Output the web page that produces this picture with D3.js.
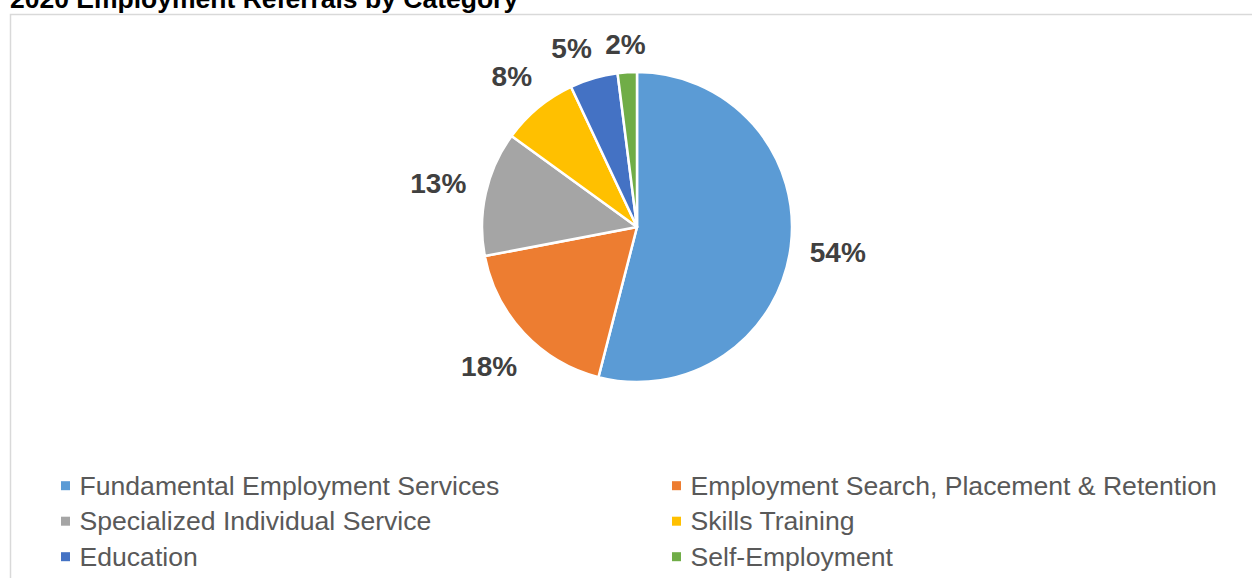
<!DOCTYPE html>
<html lang="en">
<head>
    <meta charset="UTF-8">
    <title>2020 Employment Referrals by Category</title>
    <script src="https://d3js.org/d3.v7.min.js"></script>
    <style>
        body { margin: 0; background: #fff; }
        svg { display: block; font-family: "Liberation Sans", Arial, sans-serif; }
    </style>
</head>
<body>
    <div id="chart"></div>
    <script>
        // chart data
        const categories = [
            "Fundamental Employment Services",
            "Employment Search, Placement & Retention",
            "Specialized Individual Service",
            "Skills Training",
            "Education",
            "Self-Employment"
        ];
        const shares = [54, 18, 13, 8, 5, 2];
        const sliceColors = ["#5B9BD5", "#ED7D31", "#A5A5A5", "#FFC000", "#4472C4", "#70AD47"];
        const title = "2020 Employment Referrals by Category";

        const width = 1252, height = 578;
        const cx = 637, cy = 227, radius = 155;

        const svg = d3.select("#chart")
            .append("svg")
            .attr("width", width)
            .attr("height", height);

        // chart area border
        svg.append("rect")
            .attr("x", 10.5)
            .attr("y", 14.5)
            .attr("width", width + 40)
            .attr("height", height + 40)
            .attr("fill", "none")
            .attr("stroke", "#d9d9d9")
            .attr("stroke-width", 1.5);

        // title (partly above the top edge, as in the picture)
        svg.append("text")
            .attr("x", 10)
            .attr("y", 8)
            .attr("font-size", "26.5px")
            .attr("font-weight", "bold")
            .attr("fill", "#000")
            .text(title);

        const data = categories.map((c, i) => ({ name: c, value: shares[i], color: sliceColors[i] }));

        const pie = d3.pie().sort(null).value(d => d.value);
        const arcs = pie(data);
        const arc = d3.arc().innerRadius(0).outerRadius(radius);

        const g = svg.append("g").attr("transform", `translate(${cx},${cy})`);

        g.selectAll("path.slice")
            .data(arcs)
            .join("path")
            .attr("class", "slice")
            .attr("d", arc)
            .attr("fill", d => d.data.color)
            .attr("stroke", "#fff")
            .attr("stroke-width", 2.5)
            .attr("stroke-linejoin", "round");

        // percentage labels, placed outside each slice
        const labelSize = 28;
        const labels = g.selectAll("text.pct")
            .data(arcs)
            .join("text")
            .attr("class", "pct")
            .attr("text-anchor", "middle")
            .attr("font-size", labelSize + "px")
            .attr("font-weight", "bold")
            .attr("fill", "#404040")
            .text(d => d.data.value + "%");

        const gapRadius = radius + 11.5;  // how far the label box keeps from the centre
        const padX = 6.5, halfH = 17;

        function placeAt(angle, hw) {
            const ux = Math.sin(angle), uy = -Math.cos(angle);
            const nearest = dd => {
                const x = dd * ux, y = dd * uy;
                const nx = Math.max(x - hw, Math.min(0, x + hw));
                const ny = Math.max(y - halfH, Math.min(0, y + halfH));
                return Math.hypot(nx, ny);
            };
            let lo = 0, hi = gapRadius + 200;
            for (let k = 0; k < 60; k++) {
                const mid = (lo + hi) / 2;
                if (nearest(mid) < gapRadius) lo = mid; else hi = mid;
            }
            return { x: lo * ux, y: lo * uy, hw: hw, angle: angle };
        }

        const boxes = [];
        labels.each(function(d, i) {
            const hw = this.getComputedTextLength() / 2 + padX;
            boxes[i] = placeAt((d.startAngle + d.endAngle) / 2, hw);
        });

        const overlaps = (a, b) =>
            Math.abs(a.x - b.x) < a.hw + b.hw && Math.abs(a.y - b.y) < 2 * halfH;

        // push crowded labels back along the circle
        for (let i = boxes.length - 2; i >= 0; i--) {
            let guard = 0;
            while (overlaps(boxes[i], boxes[i + 1]) && guard++ < 400) {
                boxes[i] = placeAt(boxes[i].angle - 0.004, boxes[i].hw);
            }
        }

        labels
            .attr("x", (d, i) => boxes[i].x)
            .attr("y", (d, i) => boxes[i].y + labelSize * 0.36);

        // legend, two columns
        const legendCol = d3.scaleLinear().domain([0, 1]).range([61, 672]);
        const legendRow = d3.scaleLinear().domain([0, 2]).range([494.7, 565.7]);

        const legend = svg.selectAll("g.legend")
            .data(data)
            .join("g")
            .attr("class", "legend")
            .attr("transform", (d, i) => `translate(${legendCol(i % 2)},${legendRow(Math.floor(i / 2))})`);

        legend.append("rect")
            .attr("x", 0)
            .attr("y", -13.5)
            .attr("width", 9)
            .attr("height", 9)
            .attr("fill", d => d.color);

        legend.append("text")
            .attr("x", 18.5)
            .attr("y", 0)
            .attr("font-size", "26.6px")
            .attr("fill", "#595959")
            .text(d => d.name);
    </script>
</body>
</html>
